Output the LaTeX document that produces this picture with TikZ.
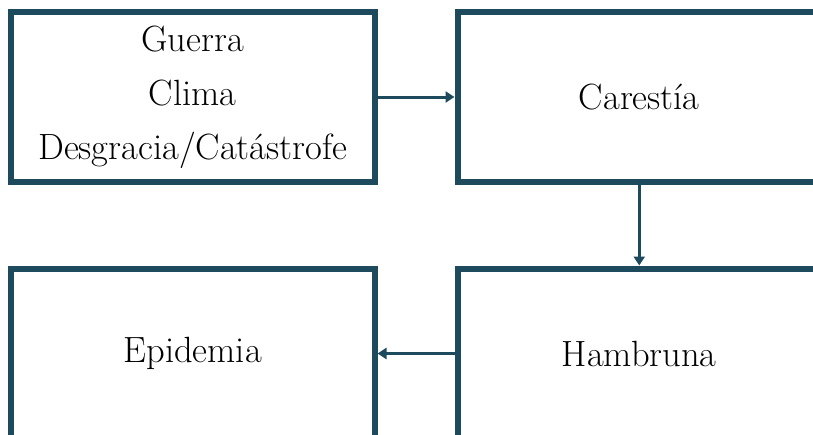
\documentclass[tikz,border=0pt]{standalone}
\usetikzlibrary{arrows.meta}
\definecolor{boxteal}{RGB}{30,74,94}
\begin{document}
\begin{tikzpicture}[x=1pt,y=-1pt,
  box/.style={draw=boxteal, line width=6pt, rectangle, minimum width=363.5pt, minimum height=170pt, inner sep=0pt, align=center, font=\fontsize{36.5}{54}\selectfont, text=black, line join=miter},
  conn/.style={draw=boxteal, line width=3pt, -{Triangle[length=9pt,width=11pt]}}]
\useasboundingbox (0,0) rectangle (813,434);
\begin{scope}
\clip (0,0) rectangle (813,434);
\node[box] (tl) at (192.75,97) {Guerra\\Clima\\Desgracia/Catástrofe};
\node[box] (tr) at (639.25,97) {Carestía};
\node[box] (bl) at (192.75,353.5) {Epidemia};
\node[box] (br) at (639.25,353.5) {Hambruna};
\draw[conn] (tl.east) -- (tr.west);
\draw[conn] (tr.south) -- (br.north);
\draw[conn] (br.west) -- (bl.east);
\end{scope}
\end{tikzpicture}
\end{document}
